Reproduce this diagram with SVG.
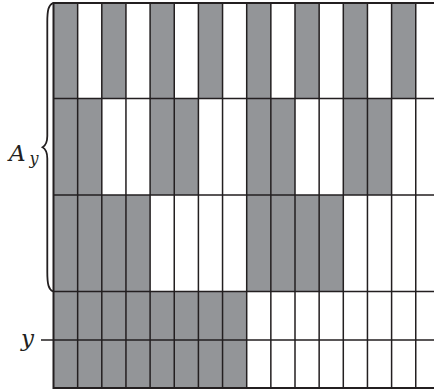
<svg xmlns="http://www.w3.org/2000/svg" width="434" height="391" viewBox="0 0 434 391">
<style>
.g{fill:#939598;stroke:none}
.ln{stroke:#231f20;stroke-width:1.5;fill:none}
.bd{stroke:#231f20;stroke-width:2;fill:none}
.t{font-family:'DejaVu Serif',serif;font-style:italic;fill:#231f20}
</style>
<rect width="434" height="391" fill="#fff"/>
<g id="cells">
<rect class="g" x="53.5" y="3" width="24.15" height="95.5"/>
<rect class="g" x="101.8" y="3" width="24.15" height="95.5"/>
<rect class="g" x="150.1" y="3" width="24.15" height="95.5"/>
<rect class="g" x="198.4" y="3" width="24.15" height="95.5"/>
<rect class="g" x="246.7" y="3" width="24.15" height="95.5"/>
<rect class="g" x="295" y="3" width="24.15" height="95.5"/>
<rect class="g" x="343.3" y="3" width="24.15" height="95.5"/>
<rect class="g" x="391.6" y="3" width="24.15" height="95.5"/>
<rect class="g" x="53.5" y="98.5" width="48.3" height="96.5"/>
<rect class="g" x="150.1" y="98.5" width="48.3" height="96.5"/>
<rect class="g" x="246.7" y="98.5" width="48.3" height="96.5"/>
<rect class="g" x="343.3" y="98.5" width="48.3" height="96.5"/>
<rect class="g" x="53.5" y="195" width="96.6" height="96.5"/>
<rect class="g" x="246.7" y="195" width="96.6" height="96.5"/>
<rect class="g" x="53.5" y="291.5" width="193.2" height="96.5"/>
</g>
<g id="grid">
<path class="ln" d="M77.65 3V388M101.8 3V388M125.95 3V388M150.1 3V388M174.25 3V388M198.4 3V388M222.55 3V388M246.7 3V388M270.85 3V388M295 3V388M319.15 3V388M343.3 3V388M367.45 3V388M391.6 3V388M415.75 3V388"/>
<path class="ln" d="M53.5 98.5H434M53.5 195H434M53.5 291.5H434M53.5 340H434"/>
<path class="bd" d="M53.5 2.5V388.5M52.5 3H434M52.5 388H434"/>
</g>
<g id="brace">
<path d="M53 3 C48.5 5 47.3 10 47.3 22 V136 C47.3 142 45.5 145.5 42.6 147.3 C45.5 149 47.3 152.5 47.3 158.5 V272 C47.3 284 48.5 289.5 53 291.5" fill="none" stroke="#231f20" stroke-width="1.8"/>
</g>
<g id="labels">
<text class="t" x="9" y="160.5" font-size="23">A</text>
<text class="t" x="29.5" y="164" font-size="16">y</text>
<text class="t" x="21" y="346" font-size="23">y</text>
<path class="ln" d="M41 340H53.5"/>
</g>
</svg>
